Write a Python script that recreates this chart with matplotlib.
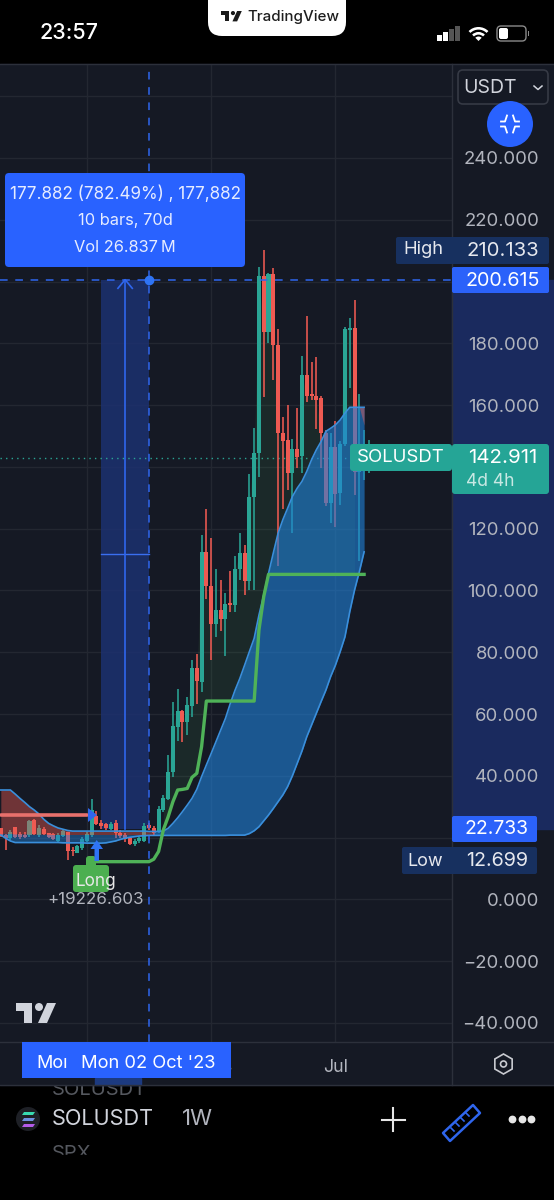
import matplotlib
matplotlib.use("Agg")
import matplotlib.pyplot as plt
import numpy as np
from matplotlib.patches import Rectangle, FancyBboxPatch, Circle, Polygon, Wedge, RegularPolygon
from matplotlib.ticker import FixedLocator, FixedFormatter

plt.rcParams['font.family'] = ['Inter', 'DejaVu Sans']

# ---- data ----
first_bar = -31
opens = [23.0,20.8,19.8,23.3,21.1,20.8,20.8,25.7,20.8,22.7,21.4,21.1,19.0,20.5,21.9,16.0,15.1,16.5,19.0,20.8,
         27.0,24.6,24.4,22.7,24.6,21.6,20.8,19.8,17.9,18.9,19.0,24.1,23.2,21.9,28.9,32.5,41.1,55.9,61.1,57.3,
         62.7,74.8,70.4,112.4,101.5,89.3,93.6,90.9,95.8,95.3,107.1,112.0,103.1,130.2,144.4,201.8,183.6,202.4,
         179.5,151.1,148.8,138.0,145.7,143.4,169.8,163.6,163.1,162.2,151.1,128.3,146.6,131.5,147.5,184.2,184.9,
         138.5,141.0,141.0]
closes = [20.6,19.8,21.9,20.3,20.3,20.3,25.5,21.2,23.0,21.2,20.3,19.4,20.8,22.1,15.5,15.5,17.3,19.4,21.2,28.9,
          24.4,23.8,23.0,24.4,21.4,20.5,19.4,17.9,19.0,19.8,23.8,23.0,21.4,29.1,32.7,41.1,56.1,61.0,57.3,62.8,
          74.8,70.8,112.3,101.5,89.3,93.6,90.9,95.6,95.3,107.1,112.0,103.1,130.2,144.4,201.8,183.6,202.4,179.5,
          151.1,148.5,138.0,145.7,143.1,169.8,163.1,163.0,161.7,151.1,128.3,146.6,131.3,147.5,184.6,184.9,138.5,
          147.0,145.0,142.9]
highs = [23.0,21.0,22.5,23.3,21.9,21.9,25.7,25.9,24.1,23.3,21.6,21.4,21.4,22.5,21.9,16.9,17.6,20.1,21.9,32.4,
         28.7,25.7,24.8,25.2,25.7,22.3,21.6,20.1,19.4,20.3,24.6,24.6,23.8,30.3,33.8,46.7,64.0,68.0,61.3,65.4,
         77.5,79.3,118.0,126.3,116.9,107.1,103.4,99.3,106.4,111.0,118.5,114.8,137.7,152.5,204.7,210.1,202.9,204.3,
         184.6,156.0,159.9,149.0,159.2,176.0,188.9,173.8,175.5,163.0,151.8,150.9,154.7,148.5,185.2,188.1,193.9,
         163.6,152.0,148.8]
lows = [20.3,16.0,19.2,19.8,19.4,19.8,20.3,20.8,20.3,20.8,19.8,19.2,18.7,20.1,12.7,14.0,14.9,16.0,18.7,20.3,
        24.1,22.7,22.5,22.5,19.8,19.8,18.7,17.6,17.3,18.4,18.7,22.3,20.8,21.6,28.4,32.1,39.7,51.2,51.0,53.3,
        59.1,63.4,67.0,97.1,77.5,85.0,87.0,78.9,93.1,93.1,103.4,98.5,100.1,100.3,136.6,162.6,180.1,168.2,
        108.0,126.5,132.6,118.5,139.8,138.0,161.0,161.5,152.2,139.6,127.2,121.8,120.7,127.7,146.8,165.5,131.0,
        109.4,135.8,138.0]

band_bars = list(range(-31, 46))
band_upper = [35.4,35.4,35.4,34.1,32.7,31.4,30.0,28.9,27.6,25.9,24.6,23.8,23.1,22.7,22.3,22.1,22.1,22.1,22.1,22.1,
              22.1,22.1,22.1,22.1,22.1,22.1,22.1,22.1,22.1,22.1,22.1,22.0,22.0,22.0,22.1,23.0,24.6,26.4,28.4,30.5,
              32.7,35.6,39.7,43.5,47.2,51.0,54.8,58.6,63.4,67.7,71.5,75.8,80.2,84.5,92.0,98.5,105.5,112.1,118.5,
              122.9,126.6,130.4,133.1,135.3,138.5,142.3,145.5,148.2,151.5,152.5,153.6,155.2,157.4,159.3,159.3,159.3,159.3]
band_middle = [21.3,21.3,21.3,21.2,21.2,21.2,21.1,21.1,21.1,21.1,21.1,21.0,21.0,21.0,21.0,21.0,21.0,21.0,21.0,21.0,
               21.0,21.0,21.0,21.0,21.0,21.0,21.0,21.0,21.0,21.0,21.0,21.0,21.0]
band_lower = [20.8,19.8,18.9,18.4,18.4,18.4,18.4,18.4,18.4,18.4,18.4,18.4,18.4,18.3,18.3,18.3,18.3,18.3,18.2,18.2,
              18.2,18.2,18.3,18.6,18.9,19.4,19.8,20.1,20.3,20.5,20.6,20.7,20.7,20.7,20.7,20.7,20.7,20.7,20.7,20.7,
              20.7,20.7,20.7,20.7,20.7,20.7,20.7,20.7,20.8,20.8,20.8,20.8,21.3,22.2,23.5,25.4,27.3,29.4,31.6,33.8,
              36.5,40.0,44.0,48.0,52.6,56.4,60.2,64.0,67.7,72.1,75.8,80.2,85.0,93.1,100.1,106.0,112.5]
red_wedge_bars = [44, 45]
red_wedge_top = [159.3, 159.3]
red_wedge_bottom = [159.3, 153.5]

red_stop_bars = [-31, -13]
red_stop_vals = [27.3, 27.3]
green_stop_bars = [-11,-10,-9,-8,-7,-6,-5,-4,-3,-2,-1,0,1,2,3,4,5,6,7,8,9,10,11,12,22,23,24,25,45]
green_stop_vals = [12.2,12.2,12.2,12.2,12.2,12.2,12.2,12.2,12.2,12.2,12.2,12.2,13.0,15.5,22.5,26.7,31.6,35.4,35.6,35.9,
                   39.5,40.8,49.4,64.2,64.2,87.2,98.0,105.2,105.2]

measure_bars = [-10, 0]
measure_prices = [22.733, 200.615]
measure_mid_price = 111.7
last_price = 142.911

price_ticks = [260,240,220,200,180,160,140,120,100,80,60,40,20,0,-20,-40]
price_labels = ['', '240.000', '220.000', '', '180.000', '160.000', '', '120.000', '100.000', '80.000', '60.000',
                '40.000', '', '0.000', '\u221220.000', '\u221240.000']
time_ticks = [-13, 13, 39]
time_labels = ['Jul', '2024', 'Jul']

# ---- colours ----
BG = '#151924'; GRID = '#232731'; BORDER = '#2c303b'; TXT = '#b2b5be'
UP = '#2aa595'; DOWN = '#ee5a52'; ACC = '#2962ff'; RANGE = '#1a2a5e'
BAND = '#2082da'; BAND_L = '#3a8fdc'; STOP = '#4fb258'

W, H = 554, 1200
fig = plt.figure(figsize=(W/100, H/100), dpi=100, facecolor='black')

def px_axes(z):
    a = fig.add_axes([0, 0, 1, 1], zorder=z)
    a.set_xlim(0, W); a.set_ylim(H, 0); a.axis('off'); a.patch.set_alpha(0)
    return a

under = px_axes(0)
# ghost list rows behind the chart
under.text(52, 1090, 'SOLUSDT', color='#55585f', fontsize=14.5, va='center', ha='left')
under.text(52, 1154, 'SPX', color='#55585f', fontsize=14.5, va='center', ha='left')
under.add_patch(Rectangle((0, 1155), W, 45, color='black', zorder=3))
under.add_patch(Rectangle((0, 64), W, 1021, color=BG, zorder=4))
under.add_patch(Rectangle((452, 280), 102, 549, color=RANGE, zorder=5))
under.add_patch(Rectangle((95, 1078), 46, 7, color='#1c3a80', zorder=5))

# ---- chart axes ----
L, R, T, B = 0, 452, 64, 1042
ax = fig.add_axes([L/W, 1-B/H, (R-L)/W, (B-T)/H], zorder=1)
ax.patch.set_alpha(0)
x_of = lambda px: (px-149)/4.78
p_of = lambda py: 240-(py-158)/3.089
ax.set_xlim(x_of(L), x_of(R))
ax.set_ylim(p_of(B), p_of(T))
for s in ax.spines.values():
    s.set_visible(False)
ax.yaxis.tick_right()
ax.yaxis.set_major_locator(FixedLocator(price_ticks))
ax.yaxis.set_major_formatter(FixedFormatter(price_labels))
ax.xaxis.set_major_locator(FixedLocator(time_ticks))
ax.xaxis.set_major_formatter(FixedFormatter(time_labels))
ax.tick_params(axis='y', length=0, pad=62.8, labelcolor=TXT, labelsize=13.3)
for t in ax.get_yticklabels():
    t.set_ha('right')
ax.tick_params(axis='x', length=0, pad=12, labelcolor=TXT, labelsize=12.8)
ax.grid(True, color=GRID, lw=1)
ax.set_axisbelow(True)

# measuring range
ax.add_patch(Rectangle((measure_bars[0], measure_prices[0]), measure_bars[1]-measure_bars[0],
                       measure_prices[1]-measure_prices[0], color='#1c3170', alpha=0.85, lw=0, zorder=1))
mid_bar = (measure_bars[0]+measure_bars[1])/2
ax.plot(measure_bars, [measure_mid_price]*2, color='#3a6ff0', lw=1, zorder=1.5)
ax.plot([mid_bar, mid_bar], measure_prices, color='#2f66ee', lw=1.2, zorder=1.5)
ax.plot([mid_bar-1.5, mid_bar, mid_bar+1.5], [measure_prices[1]-2.8, measure_prices[1], measure_prices[1]-2.8],
        color='#2f66ee', lw=1.2, zorder=1.5)

# dark green area between stop and close
bars = list(range(first_bar, first_bar+len(opens)))
g_interp = np.interp(bars, green_stop_bars, green_stop_vals)
cl = np.array(closes)
arr_bars = np.array(bars)
ax.fill_between(arr_bars, g_interp, cl, where=(arr_bars >= 3) & (arr_bars <= 43) & (cl > g_interp),
                color=STOP, alpha=0.11, lw=0, zorder=1.8, interpolate=True)

# candles
bcol = [UP if c >= o else DOWN for o, c in zip(opens, closes)]
ax.vlines(bars, lows, highs, colors=bcol, lw=1.15, zorder=2)
bottoms = [min(o, c) for o, c in zip(opens, closes)]
heights = [max(abs(c-o), 0.5) for o, c in zip(opens, closes)]
ax.bar(bars, heights, bottom=bottoms, width=0.84, color=bcol, lw=0, zorder=2.1)

# cloud
up = np.array(band_upper); lo = np.array(band_lower); bb = np.array(band_bars)
mid_bars = bb[:len(band_middle)]
ax.fill_between(mid_bars, band_middle, lo[:len(band_middle)], color=BAND, alpha=0.45, lw=0, zorder=3)
ax.fill_between(mid_bars, up[:len(band_middle)], band_middle, color=DOWN, alpha=0.42, lw=0, zorder=3)
right = bb >= mid_bars[-1]
ax.fill_between(bb[right], up[right], lo[right], color=BAND, alpha=0.6, lw=0, zorder=3)
ax.fill_between(red_wedge_bars, red_wedge_top, red_wedge_bottom, color=DOWN, alpha=0.45, lw=0, zorder=3.1)
ax.plot(bb, up, color=BAND_L, lw=1.2, zorder=3.2)
ax.plot(bb, lo, color=BAND_L, lw=1.2, zorder=3.2)

# stops
ax.plot(red_stop_bars, red_stop_vals, color='#e8706c', lw=2.6, zorder=3.4, solid_capstyle='round')
ax.plot(green_stop_bars, green_stop_vals, color=STOP, lw=2.4, zorder=3.4, solid_joinstyle='round')

# crosshair and last price
ax.axvline(measure_bars[1], color='#2f66ee', lw=1.1, dashes=(5, 5), zorder=4)
ax.axhline(measure_prices[1], color='#2f66ee', lw=1.1, dashes=(5, 5), zorder=4)
ax.plot([measure_bars[1]], [measure_prices[1]], 'o', color='#2f74f5', ms=6, zorder=4.5)
ax.plot([x_of(0), x_of(350)], [last_price]*2, color=UP, lw=1, dashes=(1, 3), zorder=1.5)

# ---- overlay UI ----
ui = px_axes(2)
def rrect(x0, y0, x1, y1, r, fc, ec='none', lw=0, z=5):
    ui.add_patch(FancyBboxPatch((x0+r, y0+r), x1-x0-2*r, y1-y0-2*r, boxstyle=f'round,pad={r},rounding_size={r}',
                                fc=fc, ec=ec, lw=lw, zorder=z))
def label(x, y, s, size, color='#ffffff', ha='center', weight='normal', z=6):
    ui.text(x, y, s, fontsize=size, color=color, ha=ha, va='center', fontweight=weight, zorder=z)

# frame lines
ui.plot([0, W], [64, 64], color=BORDER, lw=1, zorder=1)
ui.plot([452, 452], [64, 1085], color=BORDER, lw=1, zorder=1)
ui.plot([0, W], [1042, 1042], color=BORDER, lw=1, zorder=1)
ui.plot([0, W], [1085, 1085], color=BORDER, lw=1, zorder=1)

# top bar
label(69, 33, '23:57', 15.5, '#ffffff', weight='medium')
rrect(208, -20, 346, 36, 14, '#ffffff')
def tv_logo(x, y, s, c, z=6):
    ui.add_patch(Polygon([(x, y), (x+16*s, y), (x+16*s, y+20*s), (x+8*s, y+20*s), (x+8*s, y+8*s), (x, y+8*s)], fc=c, zorder=z))
    ui.add_patch(Circle((x+23*s, y+4*s), 4*s, fc=c, zorder=z))
    ui.add_patch(Polygon([(x+31*s, y), (x+40*s, y), (x+31*s, y+20*s), (x+22*s, y+20*s)], fc=c, zorder=z))
tv_logo(221, 11, 0.52, '#1a1a1a')
label(247, 17, 'TradingView', 10.9, '#1e1e1e', ha='left', weight='medium')
for i, (bx, bh, c) in enumerate([(437, 6, '#ffffff'), (443, 9, '#ffffff'), (449, 12, '#555555'), (455, 15, '#555555')]):
    ui.add_patch(Rectangle((bx, 41-bh), 4.6, bh, fc=c, zorder=6))
for r, w in [(14, 2.6), (9, 2.6)]:
    ui.add_patch(Wedge((478.5, 41), r, 225, 315, width=w, fc='#ffffff', zorder=6))
ui.add_patch(Wedge((478.5, 41), 4.5, 225, 315, fc='#ffffff', zorder=6))
rrect(497, 26, 526, 41, 4, 'none', '#8a8a8a', 1)
rrect(499, 28, 508, 39, 2, '#ffffff')
ui.add_patch(Rectangle((528, 31), 1.4, 5, fc='#8a8a8a', zorder=6))

# USDT box and button
rrect(458, 70, 548, 104, 5, BG, '#363a45', 1.2)
label(463, 88, 'USDT', 14, '#d1d4dc', ha='left')
ui.plot([534, 538, 542], [86, 89.5, 86], color='#d1d4dc', lw=1.1, zorder=6)
ui.add_patch(Circle((510, 124), 23, fc='#2962ff', zorder=6))
for sx, sy in [(-1, -1), (1, -1), (-1, 1), (1, 1)]:
    cx, cy = 510+sx*3, 124+sy*2.5
    ui.plot([cx+sx*6, cx+sx*2, cx], [cy, cy, cy+sy*6], color='white', lw=1.3, zorder=7)

# tooltip
rrect(5, 173, 245, 267, 4, ACC)
label(125, 194, '177.882 (782.49%) , 177,882', 12.3, '#e6ecff')
label(125, 220, '10 bars, 70d', 11.8, '#e6ecff')
label(125, 247, 'Vol 26.837\u2009M', 11.8, '#e6ecff')

# right labels
rrect(396, 237, 549, 264, 2, '#17305f')
label(423, 250, 'High', 13.2, '#e6e8ee')
label(503, 251, '210.133', 14.6, '#e6e8ee')
rrect(452, 267, 549, 293, 2, '#2b62fa')
label(503, 281, '200.615', 14.2, '#ffffff')
rrect(350, 444, 452, 471, 3, '#25a596')
label(401, 458, 'SOLUSDT', 13.4, '#ffffff')
rrect(452, 444, 549, 494, 3, '#25a596')
label(503, 458, '142.911', 14.8, '#ffffff')
label(466, 481, '4d 4h', 12.6, '#c8e8e3', ha='left')
rrect(402, 847, 537, 874, 2, '#17305f')
label(425, 861, 'Low', 13, '#e6e8ee')
label(497, 861, '12.699', 14.2, '#e6e8ee')
rrect(452, 816, 537, 842, 2, '#2b62fa')
label(497, 829, '22.733', 14.0, '#ffffff')

# trade markers
ui.add_patch(Polygon([(88, 808), (97, 815), (88, 822)], fc='#2f66ee', zorder=6))
ui.add_patch(Polygon([(96.7, 840), (103, 849), (99, 849), (99, 861), (94.5, 861), (94.5, 849), (90.5, 849)], fc='#2f74f5', zorder=6))
rrect(73, 865, 109, 892, 3, '#4caf50')
rrect(86, 856, 96, 868, 3, '#4caf50')
label(96, 881, 'Long', 12.4, '#e8e8e8')
label(96, 899, '+19226.603', 12.2, TXT)

# watermark logo
tv_logo(16, 1003, 1.0, '#d1d4dc')

# date label
ui.add_patch(Rectangle((22, 1042), 209, 36, fc=ACC, zorder=5))
label(36, 1063, 'Mo\u0131', 13, '#ffffff', ha='left')
label(81, 1063, "Mon 02 Oct '23", 13.2, '#ffffff', ha='left', z=7)

# settings icon
ui.add_patch(RegularPolygon((503.5, 1064), 6, radius=10, orientation=0, fc='none', ec='#c8cad0', lw=1.2, zorder=6))
ui.add_patch(Circle((503.5, 1064), 3, fc='none', ec='#c8cad0', lw=1.2, zorder=6))

# bottom bar
ui.add_patch(Circle((28, 1119), 12, fc='#1e2026', zorder=6))
for yy, c in [(1113, '#38d9b0'), (1119, '#6f8fe0'), (1125, '#b45be8')]:
    ui.add_patch(Polygon([(22, yy+2), (33, yy+2), (35, yy-1), (24, yy-1)], fc=c, zorder=7))
label(52, 1119, 'SOLUSDT', 15.6, '#d1d4dc', ha='left')
label(182, 1119, '1W', 16, '#b2b5be', ha='left')
ui.plot([393, 393], [1108, 1131], color='#e6e6e6', lw=1.5, zorder=6)
ui.plot([382, 405], [1119.5, 1119.5], color='#e6e6e6', lw=1.5, zorder=6)
ui.add_patch(Polygon([(443, 1133), (473, 1105), (480, 1113), (450, 1141)], fc='none', ec='#2f66ee', lw=1.8, zorder=6, joinstyle='round'))
for t0, t1 in [((451, 1128), (454, 1131)), ((456, 1123), (459, 1126)), ((461, 1118), (464, 1121)), ((466, 1113), (469, 1116))]:
    ui.plot([t0[0], t1[0]], [t0[1], t1[1]], color='#2f66ee', lw=1.2, zorder=6)
ui.plot([512, 522, 531], [1119]*3, 'o', color='#e6e6e6', ms=4.6, zorder=6)

fig.savefig('out.png', dpi=100, facecolor='black')
